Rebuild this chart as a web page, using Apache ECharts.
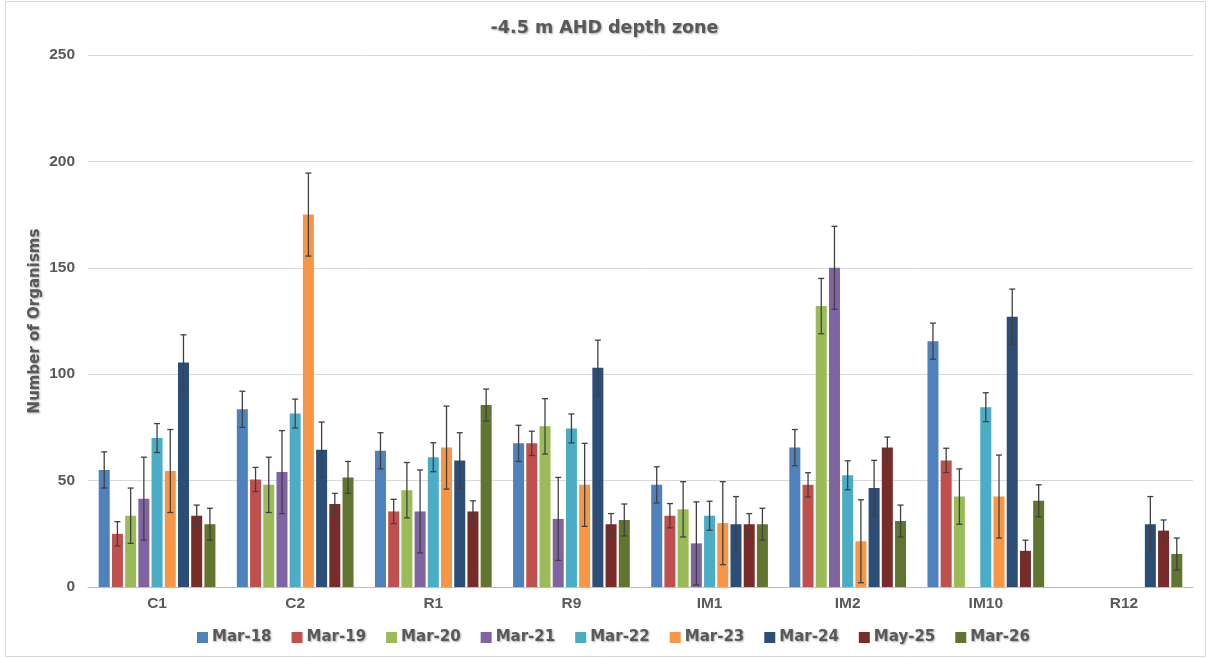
<!DOCTYPE html>
<html>
<head>
<meta charset="utf-8">
<script src="https://cdn.jsdelivr.net/npm/echarts@6/dist/echarts.min.js"></script>
<style>
  html, body { margin: 0; padding: 0; background: #fff; }
  #chart { width: 1209px; height: 659px; }
</style>
</head>
<body>
<div id="chart"></div>
<script>
// Sites along the x axis, one bar per survey per site.
const sites = ["C1", "C2", "R1", "R9", "IM1", "IM2", "IM10", "R12"];
const surveys = ["Mar-18", "Mar-19", "Mar-20", "Mar-21", "Mar-22", "Mar-23", "Mar-24", "May-25", "Mar-26"];
const colors = ["#4F81BD", "#C0504D", "#9BBB59", "#8064A2", "#4BACC6", "#F79646", "#2C4D75", "#772C2A", "#5F7530"];

// mean number of organisms per site (null = not sampled)
const mar18 = [55, 83.5, 64, 67.5, 48, 65.5, 115.5, null];
const mar19 = [25, 50.5, 35.5, 67.5, 33.5, 48, 59.5, null];
const mar20 = [33.5, 48, 45.5, 75.5, 36.5, 132, 42.5, null];
const mar21 = [41.5, 54, 35.5, 32, 20.5, 150, null, null];
const mar22 = [70, 81.5, 61, 74.5, 33.5, 52.5, 84.5, null];
const mar23 = [54.5, 175, 65.5, 48, 30, 21.5, 42.5, null];
const mar24 = [105.5, 64.5, 59.5, 103, 29.5, 46.5, 127, 29.5];
const may25 = [33.5, 39, 35.5, 29.5, 29.5, 65.5, 17, 26.5];
const mar26 = [29.5, 51.5, 85.5, 31.5, 29.5, 31, 40.5, 15.5];
const values = [mar18, mar19, mar20, mar21, mar22, mar23, mar24, may25, mar26];

// error bar half-height per survey (same for every site)
const errors = [8.5, 5.7, 13, 19.5, 6.8, 19.5, 13, 5, 7.5];

const yTicks = { min: 0, max: 250, interval: 50 };

const CAT_GAP = 0.155, BAR_GAP = 0.2;
const textGray = "#595959";
const shadow = { textShadowColor: "rgba(0,0,0,0.35)", textShadowBlur: 2, textShadowOffsetX: 1, textShadowOffsetY: 1 };

// whisker for survey i, placed on the same slot the bar series uses
function errRender(i) {
  const n = surveys.length;
  return (params, api) => {
    const x = api.value(0);
    const lo = api.coord([x, api.value(1)]);
    const hi = api.coord([x, api.value(2)]);
    const band = api.size([1, 0])[0];
    const inner = band * (1 - CAT_GAP);
    const bw = inner / (n + (n - 1) * BAR_GAP);
    const cx = lo[0] - inner / 2 + i * bw * (1 + BAR_GAP) + bw / 2;
    const st = { stroke: "#404040", lineWidth: 1.3 };
    return {
      type: "group",
      children: [
        { type: "line", shape: { x1: cx, y1: lo[1], x2: cx, y2: hi[1] }, style: st },
        { type: "line", shape: { x1: cx - 3, y1: hi[1], x2: cx + 3, y2: hi[1] }, style: st },
        { type: "line", shape: { x1: cx - 3, y1: lo[1], x2: cx + 3, y2: lo[1] }, style: st },
      ],
    };
  };
}

const series = [];
surveys.forEach((name, i) => {
  series.push({
    name, type: "bar", data: values[i],
    itemStyle: { color: colors[i] },
    barCategoryGap: (CAT_GAP * 100) + "%", barGap: (BAR_GAP * 100) + "%",
  });
});
surveys.forEach((name, i) => {
  const data = [];
  values[i].forEach((v, j) => { if (v != null) data.push([j, v - errors[i], v + errors[i]]); });
  series.push({
    name: name + " err", type: "custom", renderItem: errRender(i),
    data, encode: { x: 0, y: [1, 2] }, z: 5, silent: true,
  });
});

const chart = echarts.init(document.getElementById("chart"));
chart.setOption({
  animation: false,
  color: colors,
  graphic: [{
    type: "rect", silent: true, z: -1,
    shape: { x: 5.5, y: 1.5, width: 1200, height: 655 },
    style: { fill: "none", stroke: "#d9d9d9", lineWidth: 1 },
  }],
  title: {
    text: "-4.5 m AHD depth zone", left: "center", top: 14,
    textStyle: { fontFamily: "DejaVu Sans", fontWeight: "bold", fontSize: 17.5, color: textGray, ...shadow },
  },
  legend: {
    data: surveys, bottom: 9, left: 192,
    itemWidth: 11, itemHeight: 11, itemGap: 20, icon: "rect",
    textStyle: { fontFamily: "DejaVu Sans", fontWeight: "bold", fontSize: 15, color: textGray, padding: [0, 0, 0, -1], ...shadow },
  },
  grid: { left: 88, right: 16, top: 55, bottom: 72 },
  xAxis: {
    type: "category", data: sites,
    axisLine: { lineStyle: { color: "#bfbfbf" } },
    axisTick: { length: 7, lineStyle: { color: "#bfbfbf" } },
    axisLabel: { fontFamily: "Liberation Sans", fontWeight: "bold", fontSize: 15.5, color: textGray, margin: 9 },
  },
  yAxis: {
    type: "value", ...yTicks,
    name: "Number of Organisms", nameLocation: "middle", nameGap: 45, nameMoveOverlap: false,
    nameTextStyle: { fontFamily: "DejaVu Sans", fontWeight: "bold", fontSize: 15, color: textGray, ...shadow },
    axisLine: { show: false }, axisTick: { show: false },
    axisLabel: { fontFamily: "Liberation Sans", fontWeight: "bold", fontSize: 15.5, color: textGray, margin: 13 },
    splitLine: { lineStyle: { color: "#d9d9d9" } },
  },
  series,
});
</script>
</body>
</html>
